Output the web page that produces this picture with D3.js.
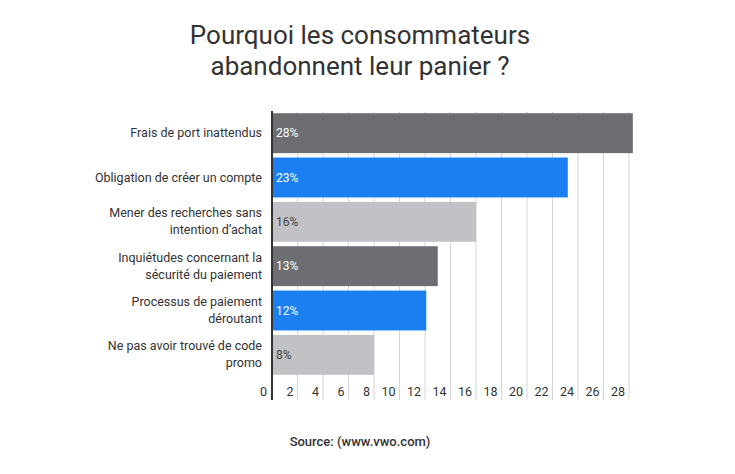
<!DOCTYPE html><html><head><meta charset="utf-8"><script src="https://cdn.jsdelivr.net/npm/d3@7"></script>
<style>body{margin:0;background:#fff}text{font-family:Roboto,sans-serif}</style></head><body><svg id="c" width="735" height="474"></svg>
<script>
const categories=[["Frais de port inattendus"],["Obligation de créer un compte"],["Mener des recherches sans","intention d’achat"],["Inquiétudes concernant la","sécurité du paiement"],["Processus de paiement","déroutant"],["Ne pas avoir trouvé de code","promo"]];
const values=[28,23,16,13,12,8];
const barLengths=[28.3,23.2,16,13,12.1,8];
const colors=["#6d6e71","#1a80f2","#c1c2c5","#6d6e71","#1a80f2","#c1c2c5"];
const labelColors=["#fff","#fff","#444","#fff","#fff","#444"];
const ticks=[0,2,4,6,8,10,12,14,16,18,20,22,24,26,28];
const svg=d3.select("#c");
const x=d3.scaleLinear().domain([0,28]).range([272,629]);
const y=d3.scaleBand().domain(d3.range(6)).range([111,377]).paddingInner(0.1).paddingOuter(0.05);
svg.append("text").attr("x",360).attr("y",44).attr("text-anchor","middle").attr("font-size",26).attr("fill","#333").text("Pourquoi les consommateurs");
svg.append("text").attr("x",360).attr("y",75).attr("text-anchor","middle").attr("font-size",26).attr("fill","#333").text("abandonnent leur panier ?");
const g=svg.append("g");
ticks.slice(1).forEach(t=>g.append("line").attr("x1",x(t)).attr("x2",x(t)).attr("y1",112).attr("y2",400).attr("stroke","#d5d5d5"));
g.selectAll("rect").data(values).join("rect").attr("x",x(0)).attr("y",(d,i)=>y(i)).attr("height",y.bandwidth()).attr("width",(d,i)=>x(barLengths[i])-x(0)).attr("fill",(d,i)=>colors[i]);
g.append("line").attr("x1",x(0)).attr("x2",x(0)).attr("y1",111).attr("y2",400).attr("stroke","#333").attr("stroke-width",2);
g.selectAll(".v").data(values).join("text").attr("x",x(0)+4).attr("y",(d,i)=>y(i)+y.bandwidth()/2+4).attr("font-size",12).attr("fill",(d,i)=>labelColors[i]).text(d=>d+"%");
categories.forEach((c,i)=>{const cy=y(i)+y.bandwidth()/2;c.forEach((l,j)=>svg.append("text").attr("x",262).attr("y",cy+4+(j-(c.length-1)/2)*17).attr("text-anchor","end").attr("font-size",12.5).attr("fill","#333").text(l));});
ticks.forEach(t=>svg.append("text").attr("x",t===0?x(0)-5:x(t)-4).attr("y",396).attr("text-anchor","end").attr("font-size",12.5).attr("fill","#333").text(t));
svg.append("text").attr("x",360).attr("y",446).attr("text-anchor","middle").attr("font-size",13).attr("font-weight","500").attr("fill","#333").text("Source: (www.vwo.com)");
</script></body></html>
